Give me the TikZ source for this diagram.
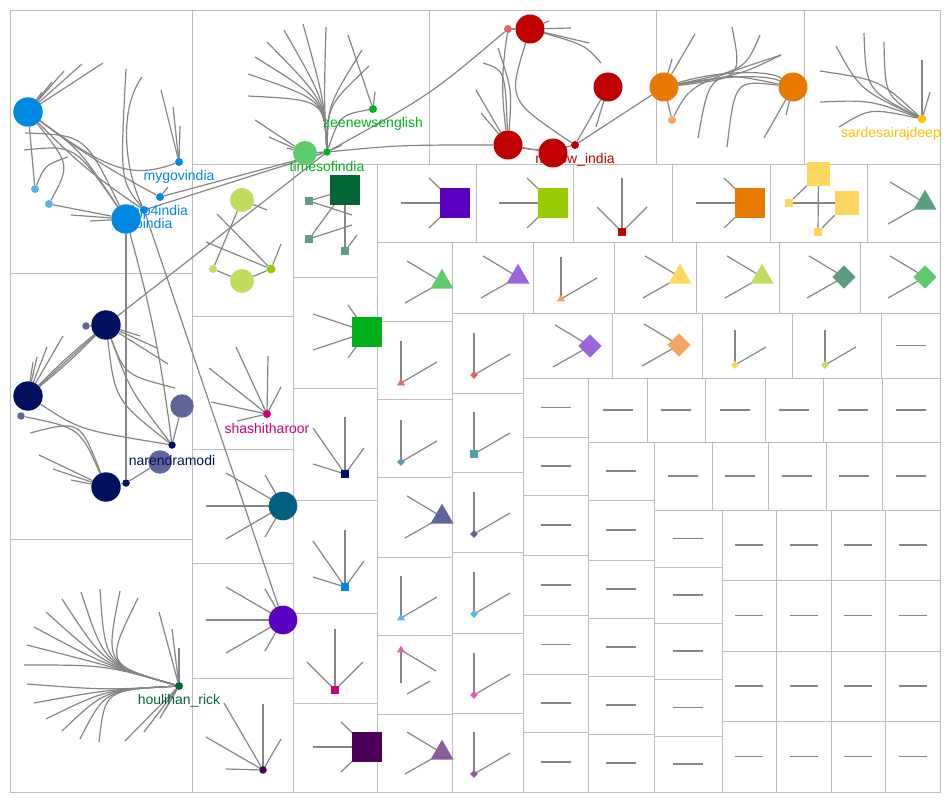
\documentclass[tikz,border=0pt]{standalone}
\usepackage{fontspec}
\setmainfont{Liberation Sans}
\usetikzlibrary{shapes.geometric,calc}
\pgfdeclarelayer{bg}
\pgfdeclarelayer{lab}
\pgfsetlayers{bg,lab,main}
\definecolor{cbox}{HTML}{BDBDBD}
\definecolor{cedge}{HTML}{858585}
\definecolor{cblue}{HTML}{0088E2}
\definecolor{cblueL}{HTML}{5AB4F0}
\definecolor{cgreen}{HTML}{00B01C}
\definecolor{cgreenL}{HTML}{5FCB6F}
\definecolor{cred}{HTML}{C00000}
\definecolor{credL}{HTML}{E06666}
\definecolor{corange}{HTML}{E67A00}
\definecolor{corangeL}{HTML}{F2A65E}
\definecolor{cyellow}{HTML}{FFC000}
\definecolor{cyl}{HTML}{FFD75E}
\definecolor{cnavy}{HTML}{000F5E}
\definecolor{cnavyM}{HTML}{5E6699}
\definecolor{chou}{HTML}{006633}
\definecolor{cteal}{HTML}{00607F}
\definecolor{cpurple}{HTML}{5A00C0}
\definecolor{cpurl}{HTML}{9966DD}
\definecolor{cdpurple}{HTML}{4C0058}
\definecolor{cmpurple}{HTML}{8C5C9E}
\definecolor{cpink}{HTML}{D0007A}
\definecolor{cpinkL}{HTML}{E060B0}
\definecolor{cyg}{HTML}{C1DD60}
\definecolor{cyg2}{HTML}{99CC00}
\definecolor{cdgs}{HTML}{5C9E80}
\definecolor{cgsq}{HTML}{00B01A}
\definecolor{clteal}{HTML}{5B9AB0}
\begin{document}
\begin{tikzpicture}[x=1pt, y=-1pt,
  box/.style={draw=cbox, line width=0.9pt},
  ed/.style={draw=cedge, line width=1.2pt},
  lbl/.style={font=\fontsize{14}{16}\selectfont, inner sep=0pt},
  dot/.style={circle, inner sep=0pt, minimum size=#1}, dot/.default=8,
  sq/.style={rectangle, inner sep=0pt, minimum size=#1}, sq/.default=8,
  tri/.style={regular polygon, regular polygon sides=3, inner sep=0pt, minimum size=#1}, tri/.default=9,
  dia/.style={diamond, inner sep=0pt, minimum size=#1}, dia/.default=8]
\useasboundingbox (0,0) rectangle (950,802);

% blue group
\node[dot=29.4, fill=cblue] (A) at (28,112) {};
\node[dot=29.4, fill=cblue] (B) at (126,219) {};
\node[dot, fill=cblue] (mg) at (179,162) {}; \node[dot, fill=cblue] (bj) at (160,197) {};
\node[dot, fill=cblue] (pm) at (144,210) {};
\node[dot, fill=cblueL] (c1) at (35,189) {}; \node[dot, fill=cblueL] (c2) at (49,204) {};
% times / zee
\node[dot=24, fill=cgreenL] (G) at (305,153) {};
\node[dot=7.5, fill=cgreen] (T) at (327,152) {}; \node[dot, fill=cgreen] (Z) at (373,109) {};
% red, orange, yellow
\node[dot=29, fill=cred] (R1) at (530,29) {}; \node[dot, fill=credL] (lr) at (508,29) {};
\node[dot=29, fill=cred] (R2) at (608,87) {}; \node[dot=29, fill=cred] (R3) at (508,145) {};
\node[dot, fill=cred] (mw) at (575,145) {}; \node[dot=29, fill=cred] (R4) at (553,153) {};
\node[dot=29, fill=corange] (O1) at (664,87) {}; \node[dot=29, fill=corange] (O2) at (793,87) {};
\node[dot, fill=corangeL] (lo) at (672,120) {};
\node[dot=8.5, fill=cyellow] (sd) at (922,119) {};
% navy group
\node[dot=29.4, fill=cnavy] (N1) at (106,325) {}; \node[dot=29.4, fill=cnavy] (N2) at (28,396) {};
\node[dot=29.4, fill=cnavy] (N3) at (106,487) {}; \node[dot=23.4, fill=cnavyM] (M1) at (182,406) {};
\node[dot=7.5, fill=cnavy] (nm) at (172,445) {}; \node[dot=7.5, fill=cnavy] (S1) at (126,483) {};
\node[dot=7.5, fill=cnavyM] (S2) at (86,326) {}; \node[dot=7.5, fill=cnavyM] (S3) at (21,416) {};
\node[dot, fill=chou] (H) at (179,686) {};
% column 192
\node[dot=24, fill=cyg] (Y1) at (242,200) {}; \node[dot=24, fill=cyg] (Y2) at (242,281) {};
\node[dot, fill=cyg] (ys1) at (213,269) {}; \node[dot=9, fill=cyg2] (ys2) at (271,269) {};
\node[dot, fill=cpink] (sh) at (267,414) {};
\node[dot=28.6, fill=cteal] (teal) at (283,506) {}; \node[dot=28.6, fill=cpurple] (pu) at (283,620) {};
\node[dot=7.5, fill=cdpurple] (dp) at (263,770) {};
% column 293
\node[sq=29.3, fill=chou] (DG) at (345,190) {};
\node[sq, fill=cdgs] (g1) at (309,201) {}; \node[sq, fill=cdgs] (g2) at (309,239) {};
\node[sq, fill=cdgs] (g3) at (345,251) {};
\node[sq=29.3, fill=cgsq] (GS) at (367,332) {};
\node[sq=7.5, fill=cnavy] (nsq) at (345,474) {}; \node[sq, fill=cblue] (bsq) at (345,587) {};
\node[sq, fill=cpink] (psq) at (335,690) {}; \node[sq=29.3, fill=cdpurple] (dpsq) at (367,747) {};
% row 164
\node[sq=29.5, fill=cpurple] (PS) at (455,203) {}; \node[sq=29.5, fill=cyg2] (YGS) at (553,203) {};
\node[sq, fill=cred] (rsq) at (622,232) {}; \node[sq=29.5, fill=corange] (OS) at (750,203) {};
\node[sq=23.5, fill=cyl] (YA) at (818.5,174) {}; \node[sq=24, fill=cyl] (YB) at (847,203) {};
\node[sq, fill=cyl] (yl) at (789,203) {}; \node[sq, fill=cyl] (yb) at (818,232) {};
\node[tri=26.6, fill=cdgs] (TT) at (925,203) {};
% row 242
\node[tri=26.6, fill=cgreenL] (GT) at (442,282) {}; \node[tri=26.6, fill=cpurl] (PT) at (518,277) {};
\node[tri, fill=corangeL] (otri) at (561,299) {}; \node[tri=26.6, fill=cyl] (YT) at (680,277) {};
\node[tri=26.6, fill=cyg] (YGT) at (762,277) {}; \node[dia=23.4, fill=cdgs] (DD) at (844,277) {};
\node[dia=23.4, fill=cgreenL] (GD) at (925,277) {};
% row 313
\node[dia=23.4, fill=cpurl] (PD) at (590,346) {}; \node[dia=23.4, fill=corangeL] (OD) at (679,345) {};
\node[dia, fill=cyl] (ydia) at (735,365) {}; \node[dia, fill=cyg] (ygdia) at (825,365) {};
% columns 377 and 452
\node[tri, fill=credL] (rtri) at (401,383) {}; \node[dia, fill=clteal] (tdia) at (401,462) {};
\node[tri=26.6, fill=cnavyM] (NT) at (442,517) {}; \node[tri, fill=cblueL] (btri) at (401,618) {};
\node[tri, fill=cpinkL] (ptri) at (401,650) {}; \node[tri=26.6, fill=cmpurple] (MT) at (442,753) {};
\node[dia, fill=credL] (rdia) at (474,375) {}; \node[sq, fill=clteal] (tsq) at (474,454) {};
\node[dia, fill=cnavyM] (ndia) at (474,534) {}; \node[dia, fill=cblueL] (bdia) at (474,614) {};
\node[dia, fill=cpinkL] (pdia) at (474,695) {}; \node[dia, fill=cmpurple] (mdia) at (474,774) {};

% labels
\begin{pgfonlayer}{lab}
\node[dot=23.4, fill=cnavyM] (M2) at (160,462) {};
\node[lbl, text=cblue] at ($(mg)+(0,14.5)$) {mygovindia};
\node[lbl, text=cblue] at ($(bj)+(0,15)$) {bjp4india};
\node[lbl, text=cblue] at ($(pm)+(0,15)$) {pmoindia};
\node[lbl, text=cgreen] at ($(T)+(0,14.5)$) {timesofindia};
\node[lbl, text=cgreen] at ($(Z)+(0,14.5)$) {zeenewsenglish};
\node[lbl, text=cred] at ($(mw)+(0,14.5)$) {mirrow\_india};
\node[lbl, text=cyellow] at ($(sd)+(-31,14.5)$) {sardesairajdeep};
\node[lbl, text=cnavy] at ($(nm)+(0,15)$) {narendramodi};
\node[lbl, text=cpink] at ($(sh)+(0,14.5)$) {shashitharoor};
\node[lbl, text=chou] at ($(H)+(0,15)$) {houlihan\_rick};
\end{pgfonlayer}

\begin{pgfonlayer}{bg}
% group boxes
\foreach \a/\b/\c/\d in {10/10/192/273,10/273/192/539,10/539/192/792,192/10/429/164,429/10/656/164,
  656/10/804/164,804/10/940/164,192/164/293/316,192/316/293/449,192/449/293/563,192/563/293/678,
  192/678/293/792,293/164/377/277,293/277/377/388,293/388/377/500,293/500/377/613,293/613/377/703,
  293/703/377/792,377/164/476/242,476/164/573/242,573/164/672/242,672/164/770/242,770/164/867/242,
  867/164/940/242,377/242/452/321,377/321/452/399,377/399/452/477,377/477/452/557,377/557/452/635,
  377/635/452/714,377/714/452/792,452/242/533/313,533/242/614/313,614/242/696/313,696/242/779/313,
  779/242/860/313,860/242/940/313,452/313/523/393,452/393/523/472,452/472/523/552,452/552/523/633,
  452/633/523/713,452/713/523/792,523/313/612/378,612/313/702/378,702/313/792/378,792/313/881/378}
  \draw[box] (\a,\b) rectangle (\c,\d);
% boxes holding a single edge
\foreach \a/\b/\c/\d in {881/313/940/378,523/378/588/437,523/437/588/495,523/495/588/555,523/555/588/615,
  523/615/588/674,523/674/588/732,523/732/588/792,588/378/647/442,647/378/705/442,705/378/765/442,
  765/378/823/442,823/378/882/442,882/378/940/442,588/442/654/500,588/500/654/560,588/560/654/618,
  588/618/654/676,588/676/654/734,588/734/654/792,654/442/712/510,712/442/768/510,768/442/826/510,
  826/442/882/510,882/442/940/510,654/510/722/567,654/567/722/623,654/623/722/679,654/679/722/736,
  654/736/722/792} {
  \draw[box] (\a,\b) rectangle (\c,\d);
  \draw[ed] ({(\a+\c)/2-15},{(\b+\d)/2}) -- ++(30,0);
}
\foreach \a/\c in {722/776,776/831,831/885,885/940}
  \foreach \b/\d in {510/580,580/651,651/721,721/792} {
    \draw[box] (\a,\b) rectangle (\c,\d);
    \draw[ed] ({(\a+\c)/2-14},{(\b+\d)/2}) -- ++(28,0);
  }

% blue group edges
\foreach \x/\y in {103/63,82/64,64/71,52/82,42/92} \draw[ed] (A) -- (\x,\y);
\draw[ed] (A) -- (c1);
\draw[ed] (A) to[bend right=4] (bj); \draw[ed] (A) to[bend right=6] (pm);
\draw[ed] (A) .. controls (80,150) .. (B); \draw[ed] (A) .. controls (70,165) .. (c2);
\draw[ed] (A) .. controls (105,168) and (130,180) .. (mg);
\draw[ed] (25,133) .. controls (85,135) .. (B); \draw[ed] (24,150) .. controls (75,145) .. (B);
\draw[ed] (c1) .. controls (45,165) .. (68,157);
\draw[ed] (c2) -- (B);
\foreach \x/\y in {71/215,90/221} \draw[ed] (B) -- (\x,\y);
\draw[ed] (126,69) .. controls (120,180) .. (pm);
\draw[ed] (142,77) .. controls (118,110) and (125,170) .. (pm);
\foreach \x/\y in {161/90,173/107,180/126} \draw[ed] (mg) -- (\x,\y);
\draw[ed] (bj) -- (168,187);
\draw[ed] (pm) -- (T); \draw[ed] (bj) -- (T);
\draw[ed] (B) -- (S1); \draw[ed] (B) to[bend left=4] (nm);
\draw[ed] (pm) -- (pu);

% times / zee edges
\foreach \x/\y in {248/74,248/96,255/57,267/42,284/30,303/24,326/27}
  \draw[ed] (T) .. controls (324,100) .. (\x,\y);
\foreach \x/\y in {362/50,369/66} \draw[ed] (T) .. controls (328,105) .. (\x,\y);
\draw[ed] (Z) .. controls (340,115) .. (T);
\foreach \x/\y in {348/35,375/92} \draw[ed] (Z) -- (\x,\y);
\foreach \x/\y in {255/120,269/137,287/148} \draw[ed] (G) -- (\x,\y);
\draw[ed] (T) -- (342,145); \draw[ed] (T) -- (G);
\draw[ed] (T) .. controls (430,95) .. (lr);
\draw[ed] (T) .. controls (400,145) .. (R3);
\draw[ed] (N1) -- (T);

% red edges
\draw[ed] (lr) -- (R1);
\foreach \x/\y in {571/28,589/43,549/21} \draw[ed] (R1) -- (\x,\y);
\draw[ed] (R1) .. controls (585,45) .. (601,63);
\draw[ed] (R1) .. controls (508,100) .. (mw);
\draw[ed] (lr) to[bend right=8] (R3);
\draw[ed] (498,48) .. controls (512,90) .. (R3); \draw[ed] (483,63) .. controls (505,70) .. (R3);
\foreach \x/\y in {476/90,481/113} \draw[ed] (R3) -- (\x,\y);
\draw[ed] (R3) -- (R4); \draw[ed] (R3) to[bend right=12] (mw);
\draw[ed] (R2) -- (mw); \draw[ed] (R2) -- (596,127);
\draw[ed] (mw) -- (O1);

% orange edges
\foreach \x/\y in {695/34,672/59} \draw[ed] (O1) -- (\x,\y);
\draw[ed] (O1) -- (lo);
\draw[ed] (O1) .. controls (742,78) .. (732,27);
\draw[ed] (O1) .. controls (745,70) .. (760,35);
\draw[ed] (O1) .. controls (740,75) .. (781,55);
\draw[ed] (O1) .. controls (720,70) and (770,70) .. (O2);
\draw[ed] (O1) .. controls (720,76) and (765,74) .. (O2);
\draw[ed] (lo) .. controls (690,85) .. (781,55);
\draw[ed] (O2) .. controls (710,70) .. (698,138);
\draw[ed] (O2) .. controls (735,80) .. (727,147);
\foreach \x/\y in {764/138,786/115} \draw[ed] (O2) -- (\x,\y);

% sardesai edges
\foreach \x/\y/\u/\v in {820/71/880/80,820/102/870/100,836/46/860/90,864/33/866/90,884/42/885/95,839/127/870/108}
  \draw[ed] (sd) .. controls (\u,\v) .. (\x,\y);
\foreach \x/\y in {922/60,930/92} \draw[ed] (sd) -- (\x,\y);

% navy edges
\foreach \x/\y in {157/348,168/364,140/336} \draw[ed] (N1) -- (\x,\y);
\draw[ed] (N1) .. controls (125,375) .. (175,388);
\draw[ed] (N1) .. controls (115,400) .. (nm); \draw[ed] (N1) .. controls (130,390) .. (nm);
\draw[ed] (N1) -- (N2); \draw[ed] (N1) to[bend left=3] (N2); \draw[ed] (N1) to[bend right=3] (N2);
\draw[ed] (S2) -- (N1);
\foreach \x/\y in {63/336,47/347,37/357,33/362} \draw[ed] (N2) -- (\x,\y);
\draw[ed] (N2) .. controls (80,430) .. (nm);
\draw[ed] (S3) .. controls (80,428) .. (N3);
\draw[ed] (30,433) .. controls (80,420) .. (N3);
\foreach \x/\y in {39/455,53/469,71/480} \draw[ed] (N3) -- (\x,\y);
\draw[ed] (N3) -- (S1); \draw[ed] (S1) -- (M2); \draw[ed] (nm) -- (M1);

% houlihan fan
\foreach \x/\y in {138/598,120/591,100/589,81/592,62/599,46/612,34/627,27/645,24/665}
  \draw[ed] (H) .. controls (105,665) .. (\x,\y);
\foreach \x/\y in {27/684,34/703,46/719,62/731,80/739,99/742}
  \draw[ed] (H) .. controls (105,690) .. (\x,\y);
\foreach \x/\y in {159/612,172/629,179/648,125/741,144/732,160/718,165/710} \draw[ed] (H) -- (\x,\y);

% column 192
\draw[ed] (ys1) -- (Y2); \draw[ed] (Y2) -- (ys2); \draw[ed] (Y1) -- (ys1); \draw[ed] (Y1) -- (267,210);
\draw[ed] (217,214) -- (ys2); \draw[ed] (206,242) -- (ys2); \draw[ed] (ys2) -- (281,244);
\foreach \x/\y in {-31/-67,1/-58,14/-27,-58/-46,-56/-12,-30/7} \draw[ed] (sh.center) -- ++(\x,\y);
\foreach \n in {teal,pu}
  \foreach \x/\y in {-77/0,-57/-33,-57/33,-18/-31,-18/31} \draw[ed] (\n.center) -- ++(\x,\y);
\foreach \x/\y in {0/-66,-57/-33,-39/-67,18/-31,-37/-1} \draw[ed] (dp.center) -- ++(\x,\y);

% column 293
\draw[ed] (g1) -- (DG); \draw[ed] (g1) -- (352,215); \draw[ed] (DG) -- (g3);
\draw[ed] (g2) -- (DG); \draw[ed] (g2) -- (352,225); \draw[ed] (g3) -- (357,235);
\foreach \x/\y in {-54/-18,-54/18,-19/-27,-19/26} \draw[ed] (GS.center) -- ++(\x,\y);
\foreach \n in {nsq,bsq}
  \foreach \x/\y in {0/-57,-32/-46,19/-26,-32/-10} \draw[ed] (\n.center) -- ++(\x,\y);
\foreach \x/\y in {0/-61,-28/-28,28/-28} \draw[ed] (psq.center) -- ++(\x,\y);
\foreach \x/\y in {0/-54,-25/-25,25/-25} \draw[ed] (rsq.center) -- ++(\x,\y);

% squares with three edges
\foreach \n in {PS,YGS,OS,dpsq} {
  \draw[ed] (\n.center) -- ++(-54,0);
  \draw[ed] (\n.center) -- ++(-26,-25);
  \draw[ed] (\n.center) -- ++(-26,25);
}
\draw[ed] (yl) -- (YB); \draw[ed] (YA) -- (yb); \draw[ed] (yl) -- (YA); \draw[ed] (yb) -- (YB);

% two-edge shapes
\foreach \n in {GT,PT,YT,YGT,DD,GD,PD,OD,NT,MT,TT} {
  \draw[ed] (\n.center) -- ++(-35,-21);
  \draw[ed] (\n.center) -- ++(-37,21);
}
\foreach \n in {rtri,tdia,btri,rdia,tsq,ndia,bdia,pdia,mdia,otri} {
  \draw[ed] (\n.center) -- ++(0,-42);
  \draw[ed] (\n.center) -- ++(36,-21);
}
\foreach \n in {ydia,ygdia} {
  \draw[ed] (\n.center) -- ++(0,-35);
  \draw[ed] (\n.center) -- ++(31,-18);
}
\draw[ed] (ptri.center) -- ++(0,33); \draw[ed] (ptri.center) -- ++(35,21);
\draw[ed] (407,694) -- (430,681);
\end{pgfonlayer}
\end{tikzpicture}
\end{document}
